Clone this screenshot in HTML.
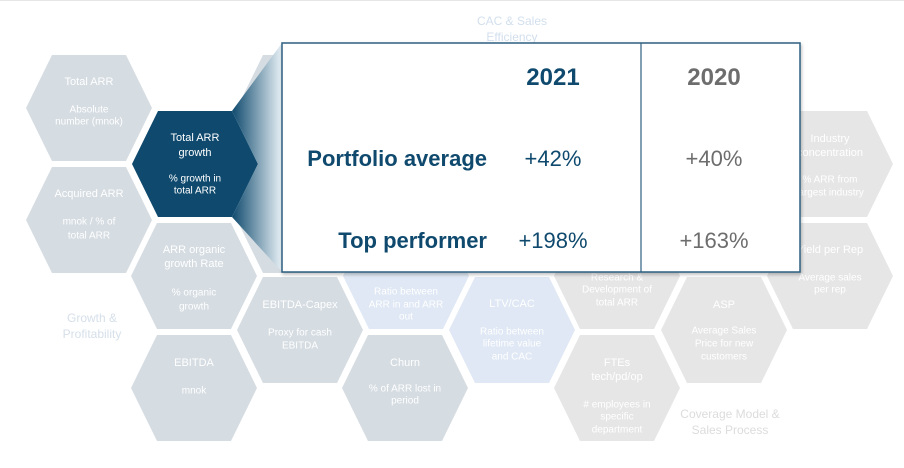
<!DOCTYPE html>
<html><head><meta charset="utf-8"><style>
html,body{margin:0;padding:0;background:#fff;width:904px;height:468px;overflow:hidden}
svg{display:block;font-family:"Liberation Sans",sans-serif}
</style></head><body>
<svg id="s" width="904" height="468" viewBox="0 0 904 468">
<defs>
<linearGradient id="g" x1="0" x2="1" y1="0" y2="0"><stop offset="0" stop-color="#0f4a6e"/><stop offset="1" stop-color="#e8f1f6"/></linearGradient>
<filter id="sh" x="-5%" y="-5%" width="110%" height="115%"><feDropShadow dx="1" dy="2" stdDeviation="1.5" flood-color="#000" flood-opacity="0.25"/></filter>
</defs>
<rect x="0" y="0" width="904" height="1" fill="#e6e6e6"/>
<g id="hexes"></g>
<g fill="#d2dfee" font-size="12" text-anchor="middle"><text x="512" y="25">CAC &amp; Sales</text><text x="512" y="41">Efficiency</text></g>
<g fill="#d6e0ea" font-size="12" text-anchor="middle"><text x="92" y="322">Growth &amp;</text><text x="92" y="338">Profitability</text></g>
<g fill="#dcdcdc" font-size="12" text-anchor="middle"><text x="730" y="418">Coverage Model &amp;</text><text x="730" y="434">Sales Process</text></g>
<polygon points="232,111 258,164 232,217 282,272 282,43" fill="url(#g)"/>
<g>
<rect x="282" y="43" width="518" height="229" fill="#fff" stroke="#2e5f80" stroke-width="1.5" filter="url(#sh)"/>
<line x1="641" y1="43" x2="641" y2="272" stroke="#2e5f80" stroke-width="1.2"/>
<text x="553" y="85" font-size="24" font-weight="bold" fill="#0f4a6e" text-anchor="middle">2021</text>
<text x="714" y="85" font-size="24" font-weight="bold" fill="#6d6d6d" text-anchor="middle">2020</text>
<text x="487" y="166" font-size="22" font-weight="bold" fill="#0f4a6e" text-anchor="end">Portfolio average</text>
<text x="553" y="166" font-size="22" fill="#0f4a6e" text-anchor="middle">+42%</text>
<text x="714" y="166" font-size="22" fill="#6d6d6d" text-anchor="middle">+40%</text>
<text x="487" y="248" font-size="22" font-weight="bold" fill="#0f4a6e" text-anchor="end">Top performer</text>
<text x="553" y="248" font-size="22" fill="#0f4a6e" text-anchor="middle">+198%</text>
<text x="714" y="248" font-size="22" fill="#6d6d6d" text-anchor="middle">+163%</text>
</g>
</svg>
<script>
const G='#d5dce2',B='#dfe8f4',R='#e6e6e6',D='#0f4a6e';
const hexes=[
 ['total-arr',89,108,G,[['Total ARR',-26,11],['Absolute',2,10],['number (mnok)',14,10]]],
 ['acquired-arr',89,220,G,[['Acquired ARR',-26,11],['mnok / % of',2,10],['total ARR',16,10]]],
 ['hidden-hex-1',300,108,G,[]],['hidden-hex-2',300,220,G,[]],
 ['arr-organic-growth',194,276,G,[['ARR organic',-26,11],['growth Rate',-12,11],['% organic',17,10],['growth',31,10]]],
 ['ebitda',194,388,G,[['EBITDA',-25,11],['mnok',3,10]]],
 ['ebitda-capex',300,330,G,[['EBITDA-Capex',-25,11],['Proxy for cash',3,10],['EBITDA',16,10]]],
 ['churn',405,388,G,[['Churn',-25,11],['% of ARR lost in',1,10],['period',13,10]]],
 ['arr-in-out-ratio',406,276,B,[['Ratio between',16,10],['ARR in and ARR',29,10],['out',41,10]]],
 ['ltv-cac',512,330,B,[['LTV/CAC',-26,11],['Ratio between',2,10],['lifetime value',14,10],['and CAC',27,10]]],
 ['rd-share',617,276,R,[['Research &',2,10],['Development of',14,10],['total ARR',27,10]]],
 ['ftes',617,388,R,[['FTEs',-25,11],['tech/pd/op',-11,11],['# employees in',17,10],['specific',29,10],['department',42,10]]],
 ['asp',724,330,R,[['ASP',-25,11],['Average Sales',1,10],['Price for new',14,10],['customers',27,10]]],
 ['yield-per-rep',830,276,R,[['Yield per Rep',-26,11],['Average sales',2,10],['per rep',14,10]]],
 ['industry-concentration',830,164,R,[['Industry',-25,11],['concentration',-11,11],['% ARR from',16,10],['largest industry',29,10]]],
 ['total-arr-growth',195,164,D,[['Total ARR',-26,11],['growth',-11,11],['% growth in',15,10],['total ARR',27,10]]]
];
const ns='http://www.w3.org/2000/svg',root=document.getElementById('hexes');
hexes.forEach(h=>{
 const [n,cx,cy,c,lines]=h;
 const g=document.createElementNS(ns,'g');
 
 
 const p=document.createElementNS(ns,'polygon');
 p.setAttribute('points',[[cx-63,cy],[cx-37,cy-53],[cx+37,cy-53],[cx+63,cy],[cx+37,cy+53],[cx-37,cy+53]].map(a=>a.join(',')).join(' '));
 p.setAttribute('fill',c);
 g.appendChild(p);
 lines.forEach(l=>{
  const t=document.createElementNS(ns,'text');
  t.setAttribute('x',cx);t.setAttribute('y',cy+l[1]);
  t.setAttribute('text-anchor','middle');t.setAttribute('dominant-baseline','middle');
  t.setAttribute('font-size',l[2]);t.setAttribute('fill','#fff');
  t.textContent=l[0];g.appendChild(t);
 });
 root.appendChild(g);
});
</script>
</body></html>
